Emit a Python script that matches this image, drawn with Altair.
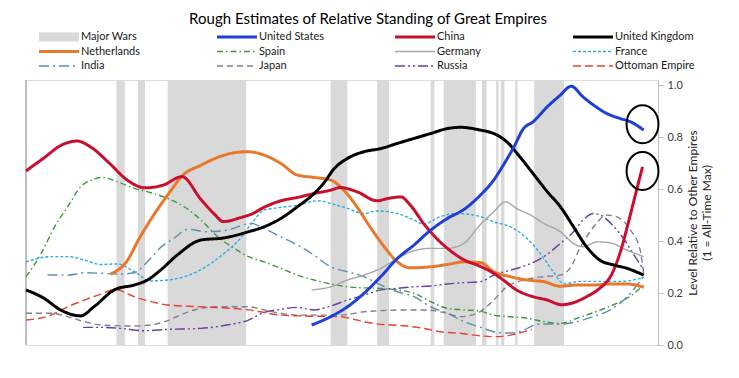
import altair as alt
import pandas as pd

# ---------------- data ----------------
US_YEARS = [1740, 1756, 1770, 1784, 1798, 1812, 1826, 1840, 1854, 1868, 1882, 1893, 1901, 1910, 1918, 1926, 1938, 1949, 1958, 1968, 1977, 1988, 1999, 2008, 2019]
US_VALUES = [0.077, 0.109, 0.147, 0.199, 0.263, 0.333, 0.385, 0.442, 0.487, 0.522, 0.578, 0.635, 0.692, 0.763, 0.833, 0.859, 0.917, 0.962, 0.996, 0.955, 0.923, 0.891, 0.872, 0.859, 0.827]

CHINA_YEARS = [1500, 1515, 1530, 1543, 1555, 1570, 1585, 1600, 1615, 1631, 1647, 1658, 1666, 1680, 1690, 1700, 1714, 1728, 1742, 1756, 1764, 1778, 1795, 1803, 1815, 1823, 1834, 1845, 1856, 1867, 1882, 1893, 1901, 1912, 1926, 1938, 1950, 1960, 1971, 1982, 1991, 1999, 2008, 2013, 2018]
CHINA_VALUES = [0.67, 0.72, 0.77, 0.785, 0.76, 0.70, 0.635, 0.605, 0.615, 0.648, 0.56, 0.505, 0.475, 0.49, 0.505, 0.53, 0.555, 0.568, 0.583, 0.596, 0.606, 0.59, 0.555, 0.563, 0.57, 0.538, 0.468, 0.41, 0.365, 0.33, 0.302, 0.276, 0.25, 0.212, 0.186, 0.173, 0.155, 0.163, 0.186, 0.218, 0.263, 0.353, 0.506, 0.596, 0.686]

UK_YEARS = [1500, 1515, 1529, 1546, 1557, 1575, 1591, 1602, 1613, 1627, 1647, 1666, 1687, 1700, 1714, 1728, 1742, 1750, 1759, 1770, 1784, 1798, 1812, 1826, 1840, 1854, 1865, 1882, 1893, 1904, 1915, 1926, 1938, 1949, 1960, 1971, 1982, 1994, 2005, 2019]
UK_VALUES = [0.212, 0.18, 0.135, 0.112, 0.147, 0.214, 0.231, 0.25, 0.288, 0.346, 0.404, 0.412, 0.436, 0.455, 0.487, 0.532, 0.583, 0.622, 0.679, 0.718, 0.744, 0.756, 0.776, 0.795, 0.814, 0.833, 0.838, 0.827, 0.814, 0.782, 0.724, 0.66, 0.59, 0.532, 0.455, 0.378, 0.327, 0.308, 0.295, 0.269]

NL_YEARS = [1571, 1584, 1596, 1610, 1622, 1631, 1647, 1661, 1675, 1686, 1700, 1714, 1728, 1742, 1756, 1767, 1778, 1789, 1801, 1812, 1823, 1840, 1854, 1868, 1882, 1893, 1907, 1921, 1935, 1949, 1963, 1977, 1991, 2005, 2019]
NL_VALUES = [0.273, 0.318, 0.417, 0.519, 0.596, 0.65, 0.692, 0.722, 0.74, 0.744, 0.731, 0.699, 0.654, 0.645, 0.635, 0.596, 0.532, 0.455, 0.378, 0.32, 0.297, 0.301, 0.31, 0.32, 0.317, 0.282, 0.263, 0.25, 0.244, 0.226, 0.231, 0.231, 0.235, 0.235, 0.222]

SPAIN_YEARS = [1500, 1513, 1524, 1535, 1546, 1555, 1564, 1577, 1591, 1605, 1619, 1633, 1647, 1661, 1675, 1687, 1700, 1714, 1728, 1742, 1756, 1770, 1784, 1798, 1812, 1826, 1840, 1854, 1868, 1882, 1893, 1907, 1921, 1935, 1949, 1963, 1977, 1991, 2005, 2019]
SPAIN_VALUES = [0.263, 0.354, 0.455, 0.532, 0.609, 0.635, 0.645, 0.628, 0.603, 0.586, 0.564, 0.532, 0.481, 0.417, 0.372, 0.34, 0.32, 0.295, 0.269, 0.25, 0.235, 0.224, 0.22, 0.218, 0.212, 0.199, 0.167, 0.141, 0.135, 0.13, 0.115, 0.109, 0.103, 0.09, 0.083, 0.103, 0.125, 0.15, 0.18, 0.23]

GERMANY_YEARS = [1740, 1756, 1770, 1784, 1798, 1812, 1826, 1840, 1854, 1868, 1880, 1893, 1903, 1912, 1924, 1935, 1949, 1960, 1968, 1980, 1991, 2005, 2019]
GERMANY_VALUES = [0.212, 0.224, 0.25, 0.269, 0.295, 0.333, 0.363, 0.372, 0.372, 0.391, 0.455, 0.513, 0.551, 0.526, 0.5, 0.468, 0.436, 0.391, 0.378, 0.397, 0.393, 0.365, 0.34]

FRANCE_YEARS = [1500, 1521, 1535, 1549, 1563, 1577, 1591, 1605, 1619, 1633, 1647, 1663, 1680, 1690, 1700, 1708, 1728, 1745, 1756, 1770, 1784, 1795, 1812, 1826, 1834, 1848, 1862, 1882, 1893, 1907, 1921, 1932, 1943, 1952, 1965, 1980, 2000, 2019]
FRANCE_VALUES = [0.32, 0.34, 0.34, 0.327, 0.31, 0.312, 0.282, 0.247, 0.25, 0.263, 0.29, 0.34, 0.41, 0.47, 0.519, 0.526, 0.538, 0.555, 0.545, 0.526, 0.506, 0.516, 0.506, 0.481, 0.465, 0.494, 0.506, 0.494, 0.474, 0.455, 0.41, 0.353, 0.282, 0.235, 0.245, 0.245, 0.245, 0.26]

INDIA_YEARS = [1518, 1535, 1549, 1563, 1580, 1591, 1602, 1613, 1624, 1636, 1652, 1669, 1689, 1700, 1714, 1728, 1742, 1756, 1770, 1784, 1798, 1812, 1826, 1840, 1854, 1868, 1882, 1898, 1910, 1932, 1949, 1963, 1977, 1991, 2005, 2019]
INDIA_VALUES = [0.27, 0.269, 0.278, 0.276, 0.273, 0.278, 0.32, 0.375, 0.41, 0.445, 0.436, 0.442, 0.468, 0.449, 0.417, 0.385, 0.346, 0.301, 0.282, 0.263, 0.231, 0.205, 0.186, 0.147, 0.122, 0.09, 0.068, 0.047, 0.046, 0.081, 0.08, 0.09, 0.11, 0.135, 0.185, 0.265]

JAPAN_YEARS = [1500, 1521, 1535, 1549, 1563, 1591, 1605, 1619, 1633, 1647, 1661, 1687, 1700, 1714, 1728, 1764, 1784, 1820, 1834, 1854, 1865, 1879, 1893, 1904, 1918, 1935, 1949, 1957, 1966, 1977, 1988, 1996, 2008, 2016, 2019]
JAPAN_VALUES = [0.122, 0.122, 0.109, 0.09, 0.077, 0.073, 0.077, 0.094, 0.122, 0.141, 0.147, 0.147, 0.135, 0.122, 0.115, 0.115, 0.128, 0.135, 0.135, 0.122, 0.109, 0.122, 0.173, 0.224, 0.25, 0.263, 0.269, 0.295, 0.378, 0.455, 0.5, 0.494, 0.442, 0.365, 0.276]

RUSSIA_YEARS = [1548, 1563, 1580, 1599, 1619, 1647, 1669, 1687, 1700, 1714, 1728, 1742, 1756, 1770, 1784, 1798, 1812, 1826, 1840, 1854, 1868, 1882, 1893, 1907, 1921, 1935, 1949, 1960, 1968, 1977, 1985, 1994, 2002, 2010, 2019]
RUSSIA_VALUES = [0.068, 0.068, 0.064, 0.055, 0.06, 0.064, 0.077, 0.096, 0.125, 0.137, 0.145, 0.135, 0.15, 0.173, 0.192, 0.212, 0.218, 0.224, 0.227, 0.235, 0.24, 0.244, 0.269, 0.288, 0.308, 0.34, 0.391, 0.436, 0.481, 0.506, 0.494, 0.455, 0.41, 0.353, 0.288]

OTTOMAN_YEARS = [1500, 1521, 1535, 1549, 1563, 1575, 1591, 1605, 1619, 1647, 1687, 1700, 1714, 1730, 1764, 1778, 1792, 1820, 1834, 1848, 1865, 1882, 1893, 1907, 1925]
OTTOMAN_VALUES = [0.096, 0.115, 0.147, 0.173, 0.196, 0.214, 0.186, 0.167, 0.154, 0.147, 0.135, 0.125, 0.115, 0.112, 0.109, 0.096, 0.083, 0.073, 0.064, 0.051, 0.045, 0.035, 0.032, 0.038, 0.06]

WAR_STARTS = [1576, 1594, 1619, 1756, 1795, 1840, 1851, 1883, 1895, 1899, 1911, 1927]
WAR_ENDS = [1583, 1600, 1685, 1770, 1805, 1843, 1878, 1887, 1897, 1902, 1913, 1952]

ANNOT_YEARS = [2018, 2018]
ANNOT_VALUES = [0.85, 0.67]

# legend entries, listed column by column (the legend fills columns first)
LEGEND_ORDER = ["Major Wars", "Netherlands", "India",
                "United States", "Spain", "Japan",
                "China", "Germany", "Russia",
                "United Kingdom", "France", "Ottoman Empire"]
LEGEND_COLORS = ["#d9d9d9", "#e8782b", "#5a8fae",
                 "#1f3fd9", "#3a9a3a", "#7f7f96",
                 "#c8102e", "#a6a6a6", "#6b3fa0",
                 "#000000", "#2aaee0", "#e8412c"]
LEGEND_DASHES = [[1, 0], [1, 0], [10, 4, 2, 4],
                 [1, 0], [6, 3, 1.5, 3], [6, 4],
                 [1, 0], [1, 0], [10, 3, 2, 3, 2, 3],
                 [1, 0], [3, 2], [8, 4]]

THICK = ["United States", "China", "United Kingdom", "Netherlands"]

SERIES = [
    ("Spain", SPAIN_YEARS, SPAIN_VALUES),
    ("India", INDIA_YEARS, INDIA_VALUES),
    ("Japan", JAPAN_YEARS, JAPAN_VALUES),
    ("Russia", RUSSIA_YEARS, RUSSIA_VALUES),
    ("Ottoman Empire", OTTOMAN_YEARS, OTTOMAN_VALUES),
    ("France", FRANCE_YEARS, FRANCE_VALUES),
    ("Germany", GERMANY_YEARS, GERMANY_VALUES),
    ("Netherlands", NL_YEARS, NL_VALUES),
    ("China", CHINA_YEARS, CHINA_VALUES),
    ("United Kingdom", UK_YEARS, UK_VALUES),
    ("United States", US_YEARS, US_VALUES),
]

rows = []
for name, ys, vs in SERIES:
    for y, v in zip(ys, vs):
        rows.append({"series": name, "year": y, "value": v})
lines_df = pd.DataFrame(rows)
thin_df = lines_df[~lines_df["series"].isin(THICK)]
thick_df = lines_df[lines_df["series"].isin(THICK)]

wars_df = pd.DataFrame({"start": WAR_STARTS, "end": WAR_ENDS})
annot_df = pd.DataFrame({"year": ANNOT_YEARS, "value": ANNOT_VALUES})

FONT = "Lato"
W, H = 632, 265

xscale = alt.Scale(domain=[1500, 2031], nice=False, zero=False)
yscale = alt.Scale(domain=[0, 1.02], nice=False)

legend = alt.Legend(
    title=None, orient="none", legendX=12, legendY=-49, columns=4,
    gridAlign="all", columnPadding=55, rowPadding=2.5, clipHeight=12,
    symbolType="stroke", symbolSize=1600,
    symbolStrokeWidth={"expr": "(datum.value === 'Major Wars' ? 9 : (indexof(['United States','China','United Kingdom','Netherlands'], datum.value) >= 0 ? 3 : 1.5))"},
    labelFont=FONT, labelFontSize=11, labelColor="#1a1a1a", labelOffset=1,
    labelLimit=200,
)
color_enc = alt.Color("series:N", scale=alt.Scale(domain=LEGEND_ORDER, range=LEGEND_COLORS), legend=legend)
dash_enc = alt.StrokeDash("series:N", scale=alt.Scale(domain=LEGEND_ORDER, range=LEGEND_DASHES), legend=legend)

x_enc = alt.X("year:Q", scale=xscale,
              axis=alt.Axis(title=None, values=list(range(1500, 2001, 50)), format="d",
                            grid=False, domainColor="#bfbfbf", tickColor="#bfbfbf", tickSize=5,
                            labelColor="#404040", labelFont=FONT, labelFontSize=11, labelFlush=False))
y_enc = alt.Y("value:Q", scale=yscale,
              axis=alt.Axis(orient="right", values=[0, 0.2, 0.4, 0.6, 0.8, 1.0], format=".1f",
                            grid=False, domainColor="#bfbfbf", tickColor="#bfbfbf", tickSize=5,
                            labelColor="#404040", labelFont=FONT, labelFontSize=11, labelPadding=4,
                            title=["Level Relative to Other Empires", "(1 = All-Time Max)"],
                            titleFont=FONT, titleFontSize=12, titleFontWeight="normal",
                            titleColor="#262626", titleAngle=270, titlePadding=3))

wars = alt.Chart(wars_df).mark_rect(color="#d9d9d9").encode(
    x=alt.X("start:Q", scale=xscale, axis=None),
    x2="end:Q",
    y=alt.value(0), y2=alt.value(H),
)

left_line = alt.Chart(wars_df).mark_rule(color="#bfbfbf", strokeWidth=1).encode(
    x=alt.value(0), y=alt.value(0), y2=alt.value(H)
)

thin = alt.Chart(thin_df).mark_line(interpolate="monotone").encode(
    x=x_enc, y=y_enc, color=color_enc, strokeDash=dash_enc,
    strokeWidth=alt.value(1.4),
)
thick = alt.Chart(thick_df).mark_line(interpolate="monotone").encode(
    x=x_enc, y=y_enc, color=color_enc, strokeDash=dash_enc,
    strokeWidth=alt.value(3),
)

ellipse = "M -0.84 0 A 0.84 1 0 1 1 0.84 0 A 0.84 1 0 1 1 -0.84 0 Z"
annots = alt.Chart(annot_df).mark_point(shape=ellipse, size=1444, filled=False,
                                        stroke="black", strokeWidth=2, opacity=1).encode(
    x=alt.X("year:Q", scale=xscale), y=alt.Y("value:Q", scale=yscale)
)

chart = alt.layer(wars, left_line, thin, thick, annots).properties(
    width=W, height=H,
    title=alt.TitleParams("Rough Estimates of Relative Standing of Great Empires",
                          font=FONT, fontSize=15, fontWeight="normal", color="#000000",
                          anchor="middle", dx=26),
    autosize=alt.AutoSizeParams(type="none"),
    padding={"left": 18, "top": 72, "right": 73, "bottom": 22},
).configure_view(stroke=None).configure(background="white")

chart.save("out.html", embed_options={"renderer": "svg", "actions": False})
